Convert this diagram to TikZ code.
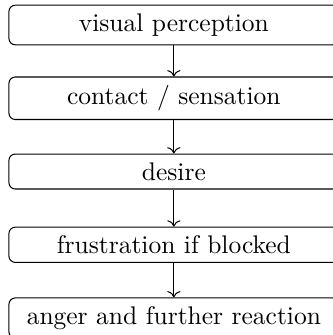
\documentclass[tikz,border=0pt]{standalone}
\usetikzlibrary{arrows.meta}
\tikzset{
  stage/.style={draw, rounded corners=2.5pt, minimum width=129.4pt, align=center},
  flow/.style={->}
}
\begin{document}
\begin{tikzpicture}[y=1.01cm]
  \useasboundingbox (-68.2pt,9.8pt) rectangle (62.4pt,-121.6pt);
  \node[stage] (vis)  at (0,0)  {visual perception};
  \node[stage] (con)  at (0,-1) {contact / sensation};
  \node[stage] (des)  at (0,-2) {desire};
  \node[stage] (fru)  at (0,-3) {frustration if blocked};
  \node[stage] (ang)  at (0,-4) {anger and further reaction};
  \draw[flow] (vis) -- (con);
  \draw[flow] (con) -- (des);
  \draw[flow] (des) -- (fru);
  \draw[flow] (fru) -- (ang);
\end{tikzpicture}
\end{document}
